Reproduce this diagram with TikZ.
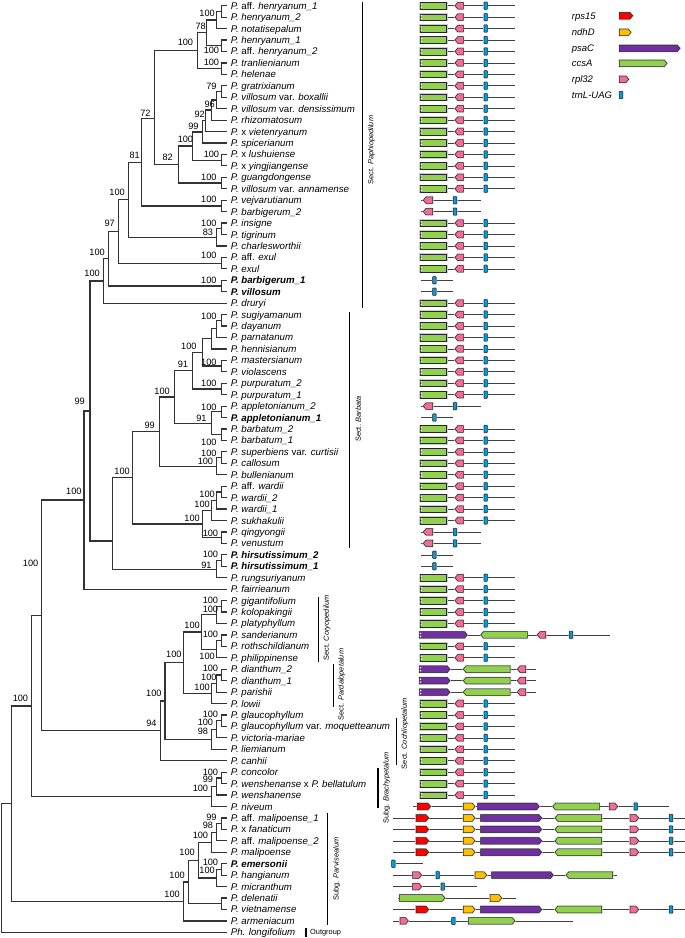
\documentclass[tikz,border=0pt]{standalone}
\usepackage{fontspec}
\setmainfont{Liberation Sans}
\usetikzlibrary{calc}

\definecolor{gGreen}{RGB}{146,208,80}
\definecolor{gPink}{RGB}{243,107,152}
\definecolor{gBlue}{RGB}{0,158,222}
\definecolor{gPurple}{RGB}{112,48,160}
\definecolor{gRed}{RGB}{255,0,0}
\definecolor{gYellow}{RGB}{255,192,0}

% clade: name, x of node, upper child, lower child
\newcommand{\clade}[4]{%
  \path let \p1=(#3), \p2=(#4) in coordinate (#1) at (#2pt,{(\y1+\y2)/2});
  \draw[branch] (#1) |- (#3) (#1) |- (#4);}
% gene arrows: colour, x from, x to, y
\newcommand{\gR}[4]{\draw[gene,fill=#1] (#2,#4-3.3) -- ({#3-2.8},#4-3.3) -- (#3,#4) -- ({#3-2.8},#4+3.3) -- (#2,#4+3.3) -- cycle;}
\newcommand{\gL}[4]{\draw[gene,fill=#1] (#3,#4-3.3) -- ({#2+2.8},#4-3.3) -- (#2,#4) -- ({#2+2.8},#4+3.3) -- (#3,#4+3.3) -- cycle;}
\newcommand{\gT}[2]{\draw[gene,fill=gBlue,rounded corners=0.6pt] ({#1},#2-3.6) rectangle ({#1+3.4},#2+3.6);}
\newcommand{\gN}[2]{\fill[white] ({#1+0.6},#2-2.4) -- ({#1+2.2},#2-1.5) -- ({#1+0.6},#2-0.6) -- cycle ({#1+0.6},#2+0.6) -- ({#1+2.2},#2+1.5) -- ({#1+0.6},#2+2.4) -- cycle;}

\begin{document}
\begin{tikzpicture}[x=1pt,y=-1pt,
    branch/.style={draw=black!80,line width=1.2pt},
    taxon/.style={anchor=west,inner sep=0pt,text height=7pt,text depth=0pt,font=\fontsize{9.7}{11}\selectfont},
    bs/.style={anchor=east,inner sep=0pt,text height=6.7pt,text depth=0pt,font=\fontsize{9.2}{11}\selectfont},
    secbar/.style={draw=black,line width=1.3pt},
    sec/.style={rotate=90,inner sep=0pt,font=\fontsize{7.4}{9}\selectfont},
    gline/.style={draw=black!75,line width=0.6pt},
    gene/.style={draw=black!85,line width=0.5pt,preaction={draw=black!20,line width=1.6pt}},
    legtxt/.style={anchor=west,inner sep=0pt,text height=6.9pt,text depth=0pt,font=\fontsize{9.5}{11}\selectfont\itshape}]
    \useasboundingbox (0,0) rectangle (685,938);

    % tips
    \foreach \i in {1,...,82}
        \coordinate (t\i) at (227,{5.7+11.44*(\i-1)});

    % Sect. Paphiopedilum
    \clade{c12}{221.7}{t1}{t2}
    \clade{n3}{216.7}{c12}{t3}
    \clade{c45}{221.7}{t4}{t5}
    \clade{n78}{206.7}{n3}{c45}
    \clade{c67}{221.7}{t6}{t7}
    \clade{nA}{197.7}{n78}{c67}
    \clade{c89}{221.7}{t8}{t9}
    \clade{n96}{216.7}{c89}{t10}
    \clade{n92}{211.7}{n96}{t11}
    \clade{n99a}{205.7}{n92}{t12}
    \clade{n13}{202.7}{n99a}{t13}
    \clade{c1415}{221.7}{t14}{t15}
    \clade{n100b}{192.7}{n13}{c1415}
    \clade{c1617}{221.7}{t16}{t17}
    \clade{n82}{178.3}{n100b}{c1617}
    \coordinate (n72) at (154.3,118.3);
    \draw[branch] (n72) |- (nA) (n72) |- (n82);
    \clade{c1819}{221.7}{t18}{t19}
    \clade{n81}{141.7}{n72}{c1819}
    \clade{c2021}{221.7}{t20}{t21}
    \clade{n83}{216.7}{c2021}{t22}
    \clade{n100c}{128.3}{n81}{n83}
    \clade{c2324}{221.7}{t23}{t24}
    \clade{n97}{118.3}{n100c}{c2324}
    \clade{c2526}{221.7}{t25}{t26}
    \clade{n100d}{108.3}{n97}{c2526}
    \clade{n100e}{103.3}{n100d}{t27}
    % Sect. Barbata
    \clade{c2829}{221.7}{t28}{t29}
    \clade{n30}{216.7}{c2829}{t30}
    \clade{n31}{211.7}{n30}{t31}
    \clade{c3233}{221.7}{t32}{t33}
    \clade{n100h}{202.7}{n31}{c3233}
    \clade{c3435}{221.7}{t34}{t35}
    \clade{n91a}{192.7}{n100h}{c3435}
    \clade{c3637}{221.7}{t36}{t37}
    \clade{c3839}{221.7}{t38}{t39}
    \clade{n91b}{211.7}{c3637}{c3839}
    \clade{n100g}{174.3}{n91a}{n91b}
    \clade{c4041}{221.7}{t40}{t41}
    \clade{n42}{216.7}{c4041}{t42}
    \clade{n99b}{159.3}{n100g}{n42}
    \clade{c4344}{221.7}{t43}{t44}
    \clade{n45}{216.7}{c4344}{t45}
    \clade{n46}{211.7}{n45}{t46}
    \clade{c4748}{221.7}{t47}{t48}
    \clade{nW}{202.7}{n46}{c4748}
    \clade{n100f}{132.7}{n99b}{nW}
    \clade{c4950}{221.7}{t49}{t50}
    \clade{n91c}{216.7}{c4950}{t51}
    \coordinate (nH) at (112.3,541);
    \draw[branch] (nH) |- (n100f) (nH) |- (n91c);
    \clade{n99c}{90}{n100e}{nH}
    \clade{n100i}{84}{n99c}{t52}
    % Coryopedilum, Pardalopetalum, Cochliopetalum
    \clade{c5354}{221.7}{t53}{t54}
    \clade{n55}{216.7}{c5354}{t55}
    \clade{c5657}{221.7}{t56}{t57}
    \clade{n58}{216.7}{c5657}{t58}
    \clade{nCory}{201.7}{n55}{n58}
    \clade{c5960}{221.7}{t59}{t60}
    \clade{n61}{216.7}{c5960}{t61}
    \clade{nPard}{211.7}{n61}{t62}
    \clade{nCP}{183.3}{nCory}{nPard}
    \clade{c6364}{221.7}{t63}{t64}
    \clade{n65}{216.7}{c6364}{t65}
    \clade{nCoch}{211.7}{n65}{t66}
    \clade{n100j}{165}{nCP}{nCoch}
    \clade{n94}{160.7}{n100j}{t67}
    \clade{nM}{41.7}{n100i}{n94}
    % Brachypetalum
    \clade{c6869}{221.7}{t68}{t69}
    \clade{n70}{216.7}{c6869}{t70}
    \clade{nBrachy}{211.7}{n70}{t71}
    \clade{nN}{31.7}{nM}{nBrachy}
    % Parvisepalum
    \clade{c7273}{221.7}{t72}{t73}
    \clade{n74}{216.7}{c7273}{t74}
    \clade{n75}{211.7}{n74}{t75}
    \clade{c7677}{221.7}{t76}{t77}
    \clade{n78b}{216.7}{c7677}{t78}
    \clade{nMal}{198.3}{n75}{n78b}
    \clade{c7980}{221.7}{t79}{t80}
    \clade{n188}{188.3}{nMal}{c7980}
    \clade{nParv}{183.3}{n188}{t81}
    \clade{nIn}{11.7}{nN}{nParv}
    \clade{root}{1.7}{nIn}{t82}

    % taxon names
    \foreach \i/\nm in {
        1/{\textit{P.} aff. \textit{henryanum\_1}}, 2/{\textit{P. henryanum\_2}}, 3/{\textit{P. notatisepalum}},
        4/{\textit{P. henryanum\_1}}, 5/{\textit{P.} aff. \textit{henryanum\_2}}, 6/{\textit{P. tranlienianum}},
        7/{\textit{P. helenae}}, 8/{\textit{P. gratrixianum}}, 9/{\textit{P. villosum} var. \textit{boxallii}},
        10/{\textit{P. villosum} var. \textit{densissimum}}, 11/{\textit{P. rhizomatosum}}, 12/{\textit{P.} x \textit{vietenryanum}},
        13/{\textit{P. spicerianum}}, 14/{\textit{P.} x \textit{lushuiense}}, 15/{\textit{P.} x \textit{yingjiangense}},
        16/{\textit{P. guangdongense}}, 17/{\textit{P. villosum} var. \textit{annamense}}, 18/{\textit{P. vejvarutianum}},
        19/{\textit{P. barbigerum\_2}}, 20/{\textit{P. insigne}}, 21/{\textit{P. tigrinum}},
        22/{\textit{P. charlesworthii}}, 23/{\textit{P.} aff. \textit{exul}}, 24/{\textit{P. exul}},
        25/{\textbf{\textit{P. barbigerum\_1}}}, 26/{\textbf{\textit{P. villosum}}}, 27/{\textit{P. druryi}},
        28/{\textit{P. sugiyamanum}}, 29/{\textit{P. dayanum}}, 30/{\textit{P. parnatanum}},
        31/{\textit{P. hennisianum}}, 32/{\textit{P. mastersianum}}, 33/{\textit{P. violascens}},
        34/{\textit{P. purpuratum\_2}}, 35/{\textit{P. purpuratum\_1}}, 36/{\textit{P. appletonianum\_2}},
        37/{\textbf{\textit{P. appletonianum\_1}}}, 38/{\textit{P. barbatum\_2}}, 39/{\textit{P. barbatum\_1}},
        40/{\textit{P. superbiens} var. \textit{curtisii}}, 41/{\textit{P. callosum}}, 42/{\textit{P. bullenianum}},
        43/{\textit{P.} aff. \textit{wardii}}, 44/{\textit{P. wardii\_2}}, 45/{\textit{P. wardii\_1}},
        46/{\textit{P. sukhakulii}}, 47/{\textit{P. qingyongii}}, 48/{\textit{P. venustum}},
        49/{\textbf{\textit{P. hirsutissimum\_2}}}, 50/{\textbf{\textit{P. hirsutissimum\_1}}}, 51/{\textit{P. rungsuriyanum}},
        52/{\textit{P. fairrieanum}}, 53/{\textit{P. gigantifolium}}, 54/{\textit{P. kolopakingii}},
        55/{\textit{P. platyphyllum}}, 56/{\textit{P. sanderianum}}, 57/{\textit{P. rothschildianum}},
        58/{\textit{P. philippinense}}, 59/{\textit{P. dianthum\_2}}, 60/{\textit{P. dianthum\_1}},
        61/{\textit{P. parishii}}, 62/{\textit{P. lowii}}, 63/{\textit{P. glaucophyllum}},
        64/{\textit{P. glaucophyllum} var. \textit{moquetteanum}}, 65/{\textit{P. victoria-mariae}}, 66/{\textit{P. liemianum}},
        67/{\textit{P. canhii}}, 68/{\textit{P. concolor}}, 69/{\textit{P. wenshenanse} x \textit{P. bellatulum}},
        70/{\textit{P. wenshanense}}, 71/{\textit{P. niveum}}, 72/{\textit{P.} aff. \textit{malipoense\_1}},
        73/{\textit{P.} x \textit{fanaticum}}, 74/{\textit{P.} aff. \textit{malipoense\_2}}, 75/{\textit{P. malipoense}},
        76/{\textbf{\textit{P. emersonii}}}, 77/{\textit{P. hangianum}}, 78/{\textit{P. micranthum}},
        79/{\textit{P. delenatii}}, 80/{\textit{P. vietnamense}}, 81/{\textit{P. armeniacum}},
        82/{\textit{Ph. longifolium}}}
        \node[taxon] (l\i) at ([xshift=3.6pt]t\i) {\nm};

    % bootstrap values
    \foreach \bx/\by/\bv [count=\k] in {
        215/13.3/100, 206/26/78, 219.3/50/100, 193.3/42.3/100, 219.3/62.3/100, 150.7/113.3/72,
        216.7/85.7/79, 215/104/96, 205/114/92, 198.7/126/99, 193.3/139/100, 219.3/154.3/100,
        173/157.5/82, 140/155.5/81, 216.7/177.3/100, 125/192.3/100, 216.7/199.3/100, 216.7/222.7/100,
        213.3/231.7/83, 115/223.3/97, 216.7/255/100, 105/251.7/100, 100/273.3/100, 216.7/280/100,
        216.7/315.7/100, 196.7/345.7/100, 216.7/361.7/100, 188.3/364/91, 216.7/383/100, 170/391/100,
        216.7/406.7/100, 206.7/418.3/91, 155/425/99, 216.7/441.7/100, 216.7/453.3/100, 213.3/460.7/100,
        85/400.7/99, 130/471/100, 81.7/491/100, 215/494.3/100, 210/504.3/100, 200/518.3/100,
        218.3/532.7/100, 218.3/554.3/100, 211.7/565/91, 218.3/600/100, 218.3/609/100, 200/625/100,
        218.3/634.3/100, 215/656/100, 218.3/668.3/100, 216.7/677.3/100, 210/686.7/100, 181.7/654.3/100,
        161.7/693.3/100, 156.7/723.3/94, 218.3/714/100, 213.3/722.3/100, 208.3/731/98, 28.3/697.7/100,
        218.3/771.7/100, 213.3/779.3/99, 208.3/788.3/100, 216.7/816.7/99, 213.3/825/98, 208.3/835/100,
        218.3/861.7/100, 215/870/100, 195/851.7/100, 185/875/100, 180/894/100, 38.5/563/100}
        \node[bs] (b\k) at (\bx,\by) {\bv};

    % sections
    \draw[secbar] (362.7,2) -- (362.7,308);
    \node[sec] (sPaph) at (371.5,150) {Sect. \textit{Paphiopedilum}};
    \draw[secbar] (349.3,312) -- (349.3,547.7);
    \node[sec] (sBarb) at (358.3,419) {Sect. \textit{Barbata}};
    \draw[secbar] (318.3,597) -- (318.3,662);
    \node[sec] (sCory) at (327,628) {Sect. \textit{Coryopedilum}};
    \draw[secbar] (333.3,664) -- (333.3,707.3);
    \node[sec] (sPard) at (341.7,684.5) {Sect. \textit{Pardalopetalum}};
    \draw[secbar] (396.7,718) -- (396.7,765);
    \node[sec] (sCoch) at (405,733.7) {Sect. \textit{Cochliopetalum}};
    \draw[secbar] (378,768) -- (378,808);
    \node[sec] (sBrac) at (386.7,788) {Subg. \textit{Brachypetalum}};
    \draw[secbar] (327.7,812.7) -- (327.7,925);
    \node[sec] (sParv) at (336.7,869) {Subg. \textit{Parvisealum}};
    \draw[secbar] (306,928) -- (306,937);
    \node[anchor=west,inner sep=0pt,font=\fontsize{7.4}{9}\selectfont] (sOut) at (310,932.3) {Outgroup};

    % gene maps
    \foreach \i in {1,2,3,4,5,6,7,8,9,10,11,12,13,14,15,16,17,20,21,22,23,24,27,28,29,30,31,32,33,34,35,
                    38,39,40,41,42,43,44,45,46,51,52,53,54,55,57,58,62,63,64,65,66,67,68,69,70}{
        \pgfmathsetmacro\yy{5.7+11.44*(\i-1)}
        \draw[gline] (420,\yy) -- (515,\yy);
        \draw[gene,fill=gGreen] (420,\yy-3.3) rectangle (446.7,\yy+3.3);
        \gN{420}{\yy}
        \gL{gPink}{455}{463.3}{\yy}
        \gT{484}{\yy}
    }
    \foreach \i in {18,19,36,47,48}{
        \pgfmathsetmacro\yy{5.7+11.44*(\i-1)}
        \draw[gline] (420.7,\yy) -- (480.7,\yy);
        \gL{gPink}{423.3}{432.7}{\yy}
        \gT{453.3}{\yy}
    }
    \foreach \i in {25,26,37,49,50}{
        \pgfmathsetmacro\yy{5.7+11.44*(\i-1)}
        \draw[gline] (420.7,\yy) -- (452.7,\yy);
        \gT{432.7}{\yy}
    }
    % sanderianum
    \draw[gline] (450,634.9) -- (610,634.9);
    \gR{gPurple}{419.3}{467.3}{634.9} \gN{419.3}{634.9}
    \gL{gGreen}{480.7}{527.3}{634.9}
    \gL{gPink}{537.3}{545.7}{634.9}
    \gT{569.3}{634.9}
    % Pardalopetalum
    \foreach \i in {59,60,61}{
        \pgfmathsetmacro\yy{5.7+11.44*(\i-1)}
        \draw[gline] (445,\yy) -- (535.7,\yy);
        \gR{gPurple}{419.3}{450}{\yy} \gN{419.3}{\yy}
        \gL{gGreen}{463.3}{510}{\yy}
        \gL{gPink}{517.3}{525.7}{\yy}
    }
    % niveum
    \draw[gline] (412.7,806.5) -- (669.3,806.5);
    \gR{gRed}{417.3}{430.7}{806.5}
    \gR{gYellow}{463.3}{475}{806.5}
    \gR{gPurple}{477.7}{539.3}{806.5}
    \gL{gGreen}{552.7}{599.3}{806.5}
    \gR{gPink}{609.3}{617.7}{806.5}
    \gT{634}{806.5}
    % complete regions
    \foreach \i in {72,73,74,75,80}{
        \pgfmathsetmacro\yy{5.7+11.44*(\i-1)}
        \draw[gline] (393.3,\yy) -- (685,\yy);
        \gR{gRed}{416}{428.7}{\yy}
        \gR{gYellow}{463.3}{475}{\yy}
        \gR{gPurple}{480.7}{541.7}{\yy}
        \gL{gGreen}{555}{601.7}{\yy}
        \gR{gPink}{630}{638.7}{\yy}
        \gT{669.3}{\yy}
    }
    % emersonii
    \draw[gline] (391.7,863.7) -- (422.7,863.7);
    \gT{391.7}{863.7}
    % hangianum
    \draw[gline] (393.3,875.1) -- (616.7,875.1);
    \gR{gPink}{412.7}{421.7}{875.1}
    \gT{436}{875.1}
    \gR{gYellow}{475}{486.7}{875.1}
    \gR{gPurple}{491.7}{553.3}{875.1}
    \gL{gGreen}{566}{612.7}{875.1}
    % micranthum
    \draw[gline] (393.3,886.6) -- (476.7,886.6);
    \gR{gPink}{412.7}{421.7}{886.6}
    \gT{441}{886.6}
    % delenatii
    \draw[gline] (398.3,898) -- (516,898);
    \gR{gGreen}{399.3}{445}{898}
    \gR{gYellow}{490}{501.7}{898}
    % armeniacum
    \draw[gline] (393.3,920.9) -- (573.3,920.9);
    \gR{gPink}{400}{408.3}{920.9}
    \gT{451.7}{920.9}
    \gR{gGreen}{468.3}{515}{920.9}

    % legend
    \node[legtxt] (kRps) at (571.7,15.7) {rps15};
    \node[legtxt] (kNdh) at (571.7,32.3) {ndhD};
    \node[legtxt] (kPsa) at (571.7,48.3) {psaC};
    \node[legtxt] (kCcs) at (571.7,63.3) {ccsA};
    \node[legtxt] (kRpl) at (571.7,79.3) {rpl32};
    \node[legtxt] (kTrn) at (571.7,95) {trnL-UAG};
    \gR{gRed}{619.3}{632.7}{15.7}
    \gR{gYellow}{619.3}{631}{32.3}
    \gR{gPurple}{619.3}{680}{48.3}
    \gR{gGreen}{619.3}{667}{63.3}
    \gR{gPink}{619.3}{628.7}{79.3}
    \gT{619.3}{95}
\end{tikzpicture}
\end{document}
